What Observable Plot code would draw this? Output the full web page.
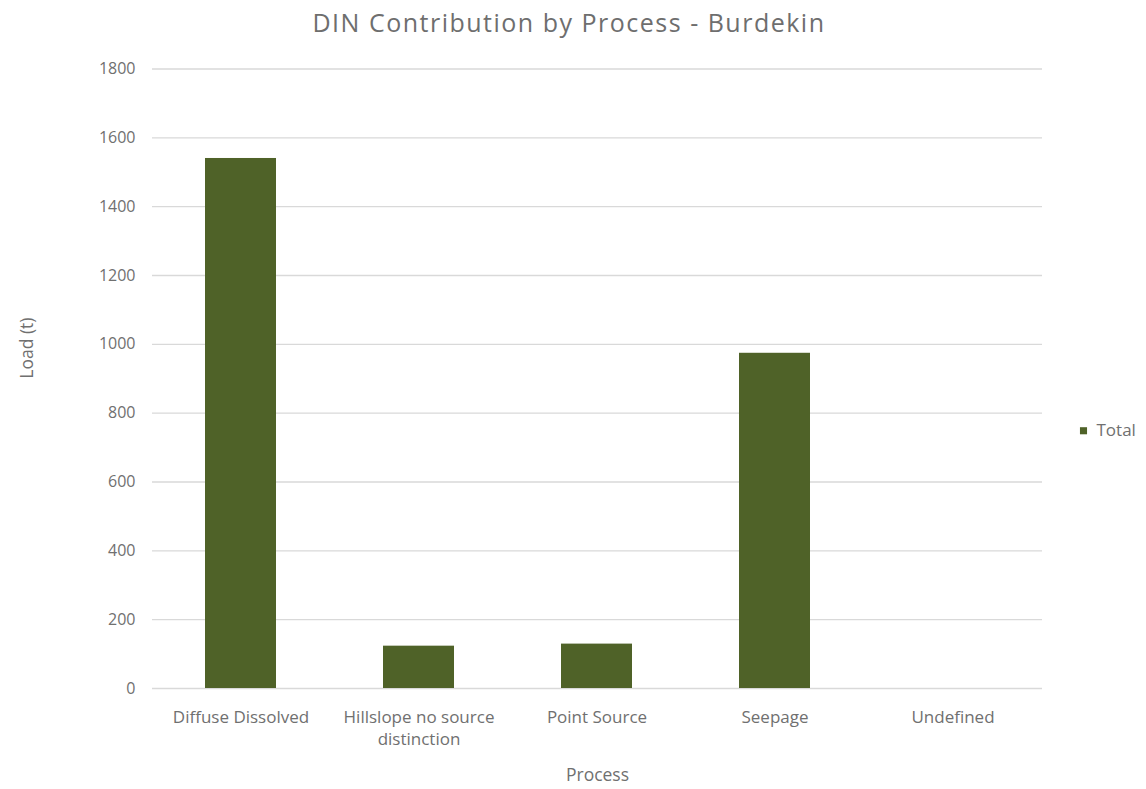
<!DOCTYPE html>
<html>
<head>
<meta charset="utf-8">
<script src="https://cdn.jsdelivr.net/npm/d3@7"></script>
<script src="https://cdn.jsdelivr.net/npm/@observablehq/plot@0.6"></script>
<style>
  html, body { margin: 0; padding: 0; background: #fff; }
  #wrap { width: 1146px; height: 789px; position: relative; font-family: "Open Sans", sans-serif; }
  #title {
    height: 45px; line-height: 45px; text-align: center; padding-right: 8px;
    font-size: 25px; color: #6e6e6e; letter-spacing: 1.5px; box-sizing: border-box;
  }
</style>
</head>
<body>
<div id="wrap">
  <div id="title">DIN Contribution by Process - Burdekin</div>
  <div id="chart"></div>
</div>
<script>
// DIN load (t) per process
const processes = ["Diffuse Dissolved", "Hillslope no source distinction", "Point Source", "Seepage", "Undefined"];
const loads = [1540, 123, 129, 974, 0];
const tickLabels = ["Diffuse Dissolved", "Hillslope no source\ndistinction", "Point Source", "Seepage", "Undefined"];
const yTicks = [0, 200, 400, 600, 800, 1000, 1200, 1400, 1600, 1800];
const seriesName = "Total";
const xTitle = "Process";
const yTitle = "Load (t)";

const barColor = "#4f6228";
const textColor = "#707070";

const rows = processes.map((p, i) => ({process: p, load: loads[i]}));
const labelOf = new Map(processes.map((p, i) => [p, tickLabels[i]]));

const chart = Plot.plot({
  width: 1146,
  height: 744,
  marginTop: 23.5,
  marginBottom: 101,
  marginLeft: 152,
  marginRight: 104,
  style: {fontFamily: "Open Sans, sans-serif", color: textColor, background: "#fff"},
  x: {domain: processes, paddingInner: 0.6, paddingOuter: 0.3},
  y: {domain: [0, 1800]},
  marks: [
    Plot.gridY(yTicks, {stroke: "#d9d9d9", strokeOpacity: 1, strokeWidth: 1.3}),
    Plot.barY(rows, {x: "process", y: "load", fill: barColor}),
    Plot.axisY(yTicks, {
      tickSize: 0, tickPadding: 17, fontSize: 16, letterSpacing: 1,
      tickFormat: d3.format("d"), label: null
    }),
    Plot.axisX({
      tickSize: 0, tickPadding: 19, fontSize: 17, letterSpacing: 1.1, lineHeight: 1.3,
      tickFormat: (d) => labelOf.get(d), label: null
    }),
    // axis titles
    Plot.text([xTitle], {frameAnchor: "bottom", dy: 87, text: (d) => d, lineAnchor: "middle", fontSize: 17.5, letterSpacing: 1, fill: textColor}),
    Plot.text([yTitle], {frameAnchor: "left", dx: -125, rotate: -90, text: (d) => d, lineAnchor: "middle", fontSize: 17.5, letterSpacing: 1, fill: textColor}),
    // legend
    Plot.dot([seriesName], {frameAnchor: "right", dx: 41, dy: 52, symbol: "square", r: 4, fill: barColor}),
    Plot.text([seriesName], {frameAnchor: "right", dx: 54, dy: 52, text: (d) => d, textAnchor: "start", lineAnchor: "middle", fontSize: 17, letterSpacing: 0.8, fill: textColor})
  ]
});
document.getElementById("chart").appendChild(chart);
</script>
</body>
</html>
